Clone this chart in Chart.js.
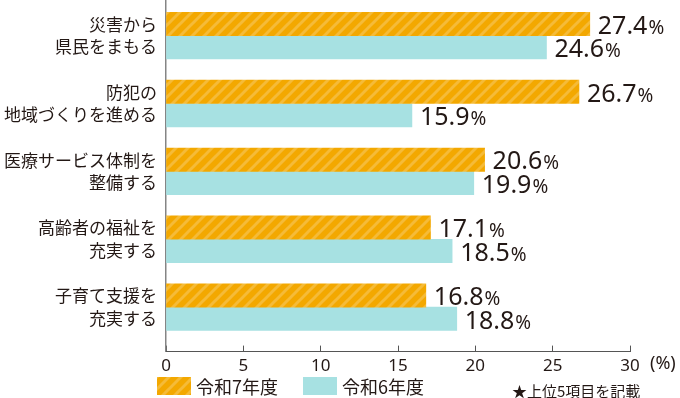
<!DOCTYPE html>
<html lang="ja">
<head>
<meta charset="utf-8">
<script src="https://cdn.jsdelivr.net/npm/chart.js@4.4.1/dist/chart.umd.min.js"></script>
<style>
  html, body { margin: 0; padding: 0; background: #fff; }
  .wrap {
    position: relative; width: 680px; height: 398px;
    font-family: "Noto Sans CJK JP", "Noto Sans", sans-serif; color: #231815;
  }
  #chart { position: absolute; left: 0; top: 0; }
  .unit { position: absolute; left: 650px; top: 349px; font-family: "Noto Sans", sans-serif; font-size: 18px; line-height: 26px; }
  .legend { position: absolute; left: 157px; top: 374px; display: flex; align-items: center; font-size: 18px; line-height: 24px; }
  .legend .item { display: flex; align-items: center; margin-right: 25px; }
  .legend .box { width: 34px; height: 18px; margin-right: 5px; }
  .note { position: absolute; left: 512px; top: 381px; font-size: 15px; line-height: 20px; }
</style>
</head>
<body>
<div class="wrap">
  <canvas id="chart" width="680" height="398"></canvas>
  <div class="unit">(%)</div>
  <div class="legend" id="legend"></div>
  <div class="note">★上位5項目を記載</div>
</div>
<script>
// ---- data ----
const categories = [
  ["災害から", "県民をまもる"],
  ["防犯の", "地域づくりを進める"],
  ["医療サービス体制を", "整備する"],
  ["高齢者の福祉を", "充実する"],
  ["子育て支援を", "充実する"],
];
const seriesNames = ["令和7年度", "令和6年度"];
const r7Values = [27.4, 26.7, 20.6, 17.1, 16.8];
const r6Values = [24.6, 15.9, 19.9, 18.5, 18.8];
const xTicks = [0, 5, 10, 15, 20, 25, 30];

const ORANGE = "#F3A800";
const TEAL = "#A7E1E2";
const TEXT = "#231815";

// diagonal hatch tile for the orange bars
function makeHatch(base, stripe) {
  const P = 12;
  const c = document.createElement("canvas");
  c.width = P; c.height = P;
  const g = c.getContext("2d");
  g.fillStyle = base;
  g.fillRect(0, 0, P, P);
  g.strokeStyle = stripe;
  g.lineWidth = 3;
  [0, P, 2 * P].forEach((k) => {
    g.beginPath();
    g.moveTo(k + 1, -1);
    g.lineTo(-1, k + 1);
    g.stroke();
  });
  return c;
}
const hatchTile = makeHatch(ORANGE, "rgba(255,255,255,0.22)");
const ctx = document.getElementById("chart").getContext("2d");
const hatch = ctx.createPattern(hatchTile, "repeat");

// value labels at the end of each bar, with a smaller %
const valueLabels = {
  id: "valueLabels",
  afterDatasetsDraw(chart) {
    const c = chart.ctx;
    c.save();
    c.fillStyle = TEXT;
    c.textBaseline = "alphabetic";
    chart.data.datasets.forEach((ds, di) => {
      chart.getDatasetMeta(di).data.forEach((bar, i) => {
        const { x, y, height } = bar.getProps(["x", "y", "height"], true);
        const num = ds.data[i].toFixed(1);
        const bx = x + 8;
        const by = y + height / 2 - 2;
        c.font = '25px "Noto Sans"';
        c.fillText(num, bx, by);
        const w = c.measureText(num).width;
        c.font = '19px "Noto Sans"';
        c.fillText("%", bx + w + 1, by);
      });
    });
    c.restore();
  },
};

new Chart(ctx, {
  type: "bar",
  data: {
    labels: categories.map((_, i) => i),
    datasets: [
      { label: seriesNames[0], data: r7Values, backgroundColor: hatch, barThickness: 23.4 },
      { label: seriesNames[1], data: r6Values, backgroundColor: TEAL, barThickness: 23.4 },
    ],
  },
  options: {
    indexAxis: "y",
    responsive: false,
    animation: false,
    layout: { padding: { left: 0, right: 50, top: 0, bottom: 12 } },
    plugins: { legend: { display: false }, tooltip: { enabled: false } },
    scales: {
      y: {
        type: "linear",
        reverse: true,
        offset: false,
        bounds: "data",
        min: -0.525,
        max: 4.655,
        z: 1,
        afterBuildTicks: (s) => { s.ticks = categories.map((_, i) => ({ value: i })); },
        afterFit: (s) => { s.width = 166; s.paddingTop = 0; s.paddingBottom = 0; },
        grid: { display: false, drawTicks: false, offset: false },
        border: { display: true, color: "#858585", width: 1.5 },
        ticks: {
          callback: (v) => categories[v],
          color: TEXT,
          padding: 9,
          font: { family: '"Noto Sans CJK JP"', size: 17, lineHeight: 1.32 },
        },
      },
      x: {
        min: xTicks[0],
        max: xTicks[xTicks.length - 1],
        afterBuildTicks: (s) => { s.ticks = xTicks.map((v) => ({ value: v })); },
        grid: { drawOnChartArea: false, drawTicks: true, tickLength: -6, color: "#555", lineWidth: 1 },
        border: { display: true, color: "#555", width: 1 },
        ticks: {
          color: TEXT,
          padding: 10,
          maxRotation: 0,
          font: { family: '"Noto Sans"', size: 17 },
        },
      },
    },
  },
  plugins: [valueLabels],
});

// legend built from the series
const legend = document.getElementById("legend");
seriesNames.forEach((name, i) => {
  const item = document.createElement("div");
  item.className = "item";
  const box = document.createElement("div");
  box.className = "box";
  if (i === 0) {
    box.style.backgroundImage = "url(" + hatchTile.toDataURL() + ")";
  } else {
    box.style.background = TEAL;
  }
  const txt = document.createElement("span");
  txt.textContent = name;
  item.appendChild(box);
  item.appendChild(txt);
  legend.appendChild(item);
});
</script>
</body>
</html>
